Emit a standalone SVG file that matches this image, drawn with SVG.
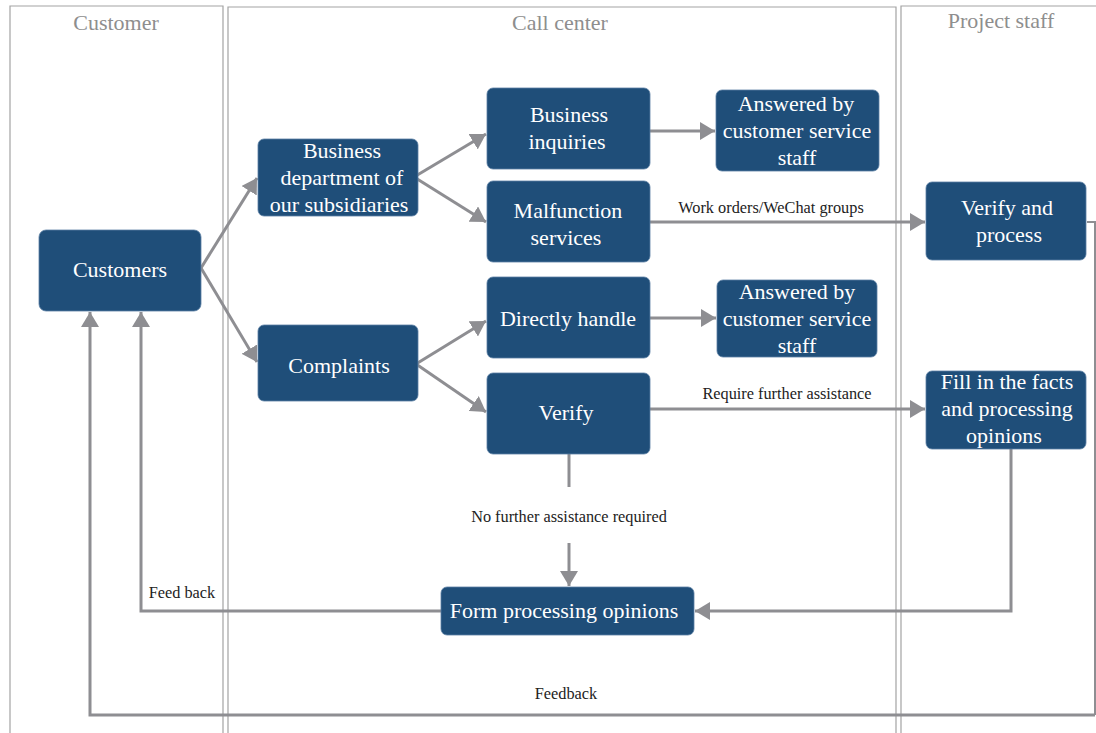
<svg xmlns="http://www.w3.org/2000/svg" width="1096" height="733" viewBox="0 0 1096 733">
  <style>
    text { font-family: "Liberation Serif", "Times New Roman", serif; }
    .lane { fill: none; stroke: #a3a3a3; stroke-width: 1.2; }
    .lane-title { font-size: 22px; fill: #8e8e8e; text-anchor: middle; }
    .box { fill: #1f4e79; stroke: #5a7fa3; stroke-width: 0.8; }
    .box-text { font-size: 22px; fill: #ffffff; text-anchor: middle; }
    .conn { fill: none; stroke: #8e8e92; stroke-width: 3; }
    .conn-thin { fill: none; stroke: #8e8e92; stroke-width: 2; }
    .label { font-size: 16.3px; fill: #222222; text-anchor: middle; }
  </style>
  <defs>
    <marker id="arrow" viewBox="0 0 5 6" refX="5" refY="3" markerWidth="5" markerHeight="6" orient="auto" markerUnits="strokeWidth">
      <path d="M0,0 L5,3 L0,6 Z" fill="#8e8e92"/>
    </marker>
  </defs>

  <rect width="1096" height="733" fill="#ffffff"/>

  <!-- swimlanes -->
  <g id="lanes">
    <path class="lane" d="M10,733 V6 H223 V733"/>
    <path class="lane" d="M228,733 V7 H896 V733"/>
    <path class="lane" d="M901,733 V6 H1096"/>
    <text class="lane-title" x="116" y="30">Customer</text>
    <text class="lane-title" x="560" y="30">Call center</text>
    <text class="lane-title" x="1001" y="28">Project staff</text>
  </g>

  <!-- connectors -->
  <g id="connectors">
    <line class="conn" x1="201" y1="268" x2="257" y2="178" marker-end="url(#arrow)"/>
    <line class="conn" x1="201" y1="268" x2="257" y2="362" marker-end="url(#arrow)"/>
    <line class="conn" x1="414" y1="177" x2="486" y2="134" marker-end="url(#arrow)"/>
    <line class="conn" x1="414" y1="177" x2="486" y2="222" marker-end="url(#arrow)"/>
    <line class="conn" x1="416" y1="364" x2="486" y2="321" marker-end="url(#arrow)"/>
    <line class="conn" x1="416" y1="364" x2="486" y2="412" marker-end="url(#arrow)"/>
    <line class="conn" x1="650" y1="131" x2="715" y2="131" marker-end="url(#arrow)"/>
    <line class="conn" x1="650" y1="222" x2="925" y2="222" marker-end="url(#arrow)"/>
    <line class="conn" x1="650" y1="318" x2="716" y2="318" marker-end="url(#arrow)"/>
    <line class="conn" x1="650" y1="409" x2="925" y2="409" marker-end="url(#arrow)"/>
    <line class="conn" x1="569" y1="454" x2="569" y2="487"/>
    <line class="conn" x1="569" y1="543" x2="569" y2="586" marker-end="url(#arrow)"/>
    <polyline class="conn" points="1011,449 1011,611 695,611" marker-end="url(#arrow)"/>
    <polyline class="conn" points="441,611 141,611 141,312" marker-end="url(#arrow)"/>
    <polyline class="conn-thin" points="1087,222 1095,222 1095,715"/>
    <polyline class="conn" points="1095,715 90,715 90,312" marker-end="url(#arrow)"/>
    <text class="label" x="771" y="213">Work orders/WeChat groups</text>
    <text class="label" x="787" y="399">Require further assistance</text>
    <text class="label" x="569" y="522">No further assistance required</text>
    <text class="label" x="182" y="598">Feed back</text>
    <text class="label" x="566" y="699">Feedback</text>
  </g>

  <!-- nodes -->
  <g id="customers">
    <rect class="box" x="39" y="230" width="162" height="81" rx="7"/>
    <text class="box-text" x="120" y="277">Customers</text>
  </g>
  <g id="business-department">
    <rect class="box" x="258" y="139" width="160" height="77" rx="6"/>
    <text class="box-text" x="342" y="158">Business</text>
    <text class="box-text" x="342" y="185">department of</text>
    <text class="box-text" x="339" y="212">our subsidiaries</text>
  </g>
  <g id="complaints">
    <rect class="box" x="258" y="325" width="160" height="76" rx="6"/>
    <text class="box-text" x="339" y="373">Complaints</text>
  </g>
  <g id="business-inquiries">
    <rect class="box" x="487" y="88" width="163" height="81" rx="6"/>
    <text class="box-text" x="569" y="122">Business</text>
    <text class="box-text" x="567" y="149">inquiries</text>
  </g>
  <g id="malfunction-services">
    <rect class="box" x="487" y="181" width="163" height="81" rx="6"/>
    <text class="box-text" x="568" y="218">Malfunction</text>
    <text class="box-text" x="566" y="245">services</text>
  </g>
  <g id="directly-handle">
    <rect class="box" x="487" y="277" width="163" height="81" rx="6"/>
    <text class="box-text" x="568" y="326">Directly handle</text>
  </g>
  <g id="verify">
    <rect class="box" x="487" y="373" width="163" height="81" rx="6"/>
    <text class="box-text" x="566" y="420">Verify</text>
  </g>
  <g id="answered-inquiries">
    <rect class="box" x="716" y="90" width="163" height="81" rx="6"/>
    <text class="box-text" x="796" y="111">Answered by</text>
    <text class="box-text" x="797" y="138">customer service</text>
    <text class="box-text" x="797" y="165">staff</text>
  </g>
  <g id="answered-direct">
    <rect class="box" x="717" y="280" width="160" height="77" rx="6"/>
    <text class="box-text" x="797" y="299">Answered by</text>
    <text class="box-text" x="797" y="326">customer service</text>
    <text class="box-text" x="797" y="353">staff</text>
  </g>
  <g id="verify-and-process">
    <rect class="box" x="926" y="182" width="160" height="78" rx="6"/>
    <text class="box-text" x="1007" y="215">Verify and</text>
    <text class="box-text" x="1009" y="242">process</text>
  </g>
  <g id="fill-in-facts">
    <rect class="box" x="926" y="371" width="160" height="78" rx="6"/>
    <text class="box-text" x="1007" y="389">Fill in the facts</text>
    <text class="box-text" x="1007" y="416">and processing</text>
    <text class="box-text" x="1004" y="443">opinions</text>
  </g>
  <g id="form-opinions">
    <rect class="box" x="441" y="587" width="253" height="48" rx="6"/>
    <text class="box-text" x="564" y="618">Form processing opinions</text>
  </g>
</svg>
